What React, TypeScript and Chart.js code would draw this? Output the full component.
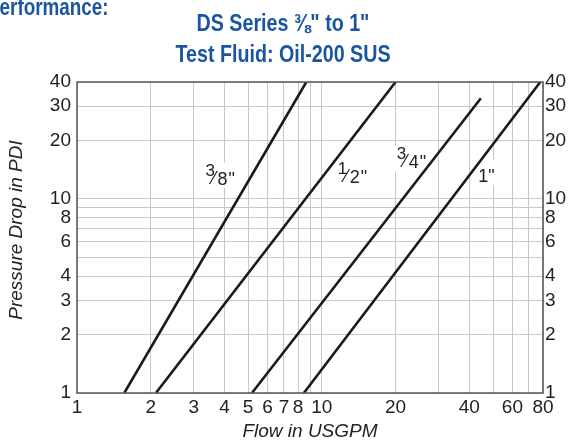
import React, { useEffect, useRef } from "react";
import { Chart, registerables } from "chart.js";

Chart.register(...registerables);

// ---- data ----
const seriesNames = ['3/8"', '1/2"', '3/4"', '1"'];
const flow38 = [1.56, 8.64];
const drop38 = [1, 40];
const flow12 = [2.1, 20];
const drop12 = [1, 40];
const flow34 = [5.18, 44.6];
const drop34 = [1, 33];
const flow1 = [8.44, 78];
const drop1 = [1, 40];

const xGrid = [1, 2, 3, 4, 5, 6, 7, 8, 9, 10, 20, 30, 40, 50, 60, 70, 80];
const xTickLabels = [1, 2, 3, 4, 5, 6, 7, 8, 10, 20, 40, 60, 80];
const yGrid = [1, 2, 3, 4, 5, 6, 7, 8, 9, 10, 20, 30, 40];
const yTickLabels = [1, 2, 3, 4, 6, 8, 10, 20, 30, 40];

// size labels on the curves: numerator / denominator, anchored in data units
const labelNum = ["3", "1", "3", "1"];
const labelDen = ["8", "2", "4", ""];
const labelFlow = [3.35, 11.6, 20.2, 43.5];
const labelDrop = [11.8, 12.1, 14.4, 12.2];

const titleLine1 = 'DS Series \u215C" to 1"';
const titleLine2 = "Test Fluid: Oil-200 SUS";
const cornerText = "Performance:";
const xTitle = "Flow in USGPM";
const yTitle = "Pressure Drop in PDI";

const BLUE = "#1a56a0";
const INK = "#222";
const FONT = '"Liberation Sans", Arial, Helvetica, sans-serif';

function toPts(xs: number[], ys: number[]) {
  return xs.map((x, i) => ({ x, y: ys[i] }));
}

let narrowOK: boolean | null = null;
function hasNarrow(ctx: CanvasRenderingContext2D) {
  if (narrowOK !== null) return narrowOK;
  ctx.save();
  ctx.font = "bold 24px monospace";
  const a = ctx.measureText("Test Fluid Series").width;
  ctx.font = 'bold 24px "Liberation Sans Narrow", monospace';
  const b = ctx.measureText("Test Fluid Series").width;
  ctx.restore();
  narrowOK = Math.abs(a - b) > 0.5;
  return narrowOK;
}

function drawCondensed(
  ctx: CanvasRenderingContext2D,
  text: string,
  x: number,
  y: number,
  align: CanvasTextAlign,
  size: number
) {
  ctx.save();
  ctx.textAlign = align;
  ctx.textBaseline = "alphabetic";
  if (hasNarrow(ctx)) {
    ctx.font = `bold ${size}px "Liberation Sans Narrow", ${FONT}`;
    ctx.fillText(text, x, y);
  } else {
    ctx.font = `bold ${size}px ${FONT}`;
    ctx.translate(x, y);
    ctx.scale(0.82, 1);
    ctx.fillText(text, 0, 0);
  }
  ctx.restore();
}

const decorPlugin = {
  id: "decor",
  beforeDatasetsDraw(chart: any) {
    const ctx: CanvasRenderingContext2D = chart.ctx;
    const xs = chart.scales.x;
    const ys = chart.scales.y;
    ctx.save();
    for (let i = 0; i < seriesNames.length; i++) {
      const x0 = xs.getPixelForValue(labelFlow[i]);
      const b = ys.getPixelForValue(labelDrop[i]);
      const hasFrac = labelDen[i] !== "";
      const w = hasFrac ? 32 : 16;
      ctx.fillStyle = "#fff";
      ctx.fillRect(x0 - 2, b - 22, w + 4, 25);
      ctx.fillStyle = INK;
      ctx.textBaseline = "alphabetic";
      ctx.textAlign = "left";
      if (hasFrac) {
        ctx.font = `17px ${FONT}`;
        ctx.fillText(labelNum[i], x0, b - 9);
        ctx.font = `18px ${FONT}`;
        ctx.fillText("\u2044", x0 + 7, b - 1);
        ctx.fillText(labelDen[i], x0 + 12, b);
        ctx.fillText('"', x0 + 23, b);
      } else {
        ctx.font = `18px ${FONT}`;
        ctx.fillText(labelNum[i] + '"', x0, b);
      }
    }
    ctx.restore();
  },
  afterDraw(chart: any) {
    const ctx: CanvasRenderingContext2D = chart.ctx;
    const a = chart.chartArea;
    ctx.save();
    // frame
    ctx.strokeStyle = "#555";
    ctx.lineWidth = 1.5;
    ctx.strokeRect(a.left, a.top, a.right - a.left, a.bottom - a.top);
    // titles
    ctx.fillStyle = BLUE;
    drawCondensed(ctx, titleLine1, 283, 31, "center", 24);
    drawCondensed(ctx, titleLine2, 283, 62, "center", 24);
    drawCondensed(ctx, cornerText, -13, 15, "left", 23);
    // axis titles
    ctx.fillStyle = INK;
    ctx.font = `italic 19px ${FONT}`;
    ctx.textAlign = "center";
    ctx.textBaseline = "alphabetic";
    ctx.fillText(xTitle, (a.left + a.right) / 2, 437);
    ctx.translate(22, 230);
    ctx.rotate(-Math.PI / 2);
    ctx.fillText(yTitle, 0, 0);
    ctx.restore();
  },
};

export default function App() {
  const ref = useRef<HTMLCanvasElement>(null);
  useEffect(() => {
    const canvas = ref.current!;
    const lineStyle = {
      borderColor: "#1a1a1a",
      borderWidth: 2.6,
      pointRadius: 0,
      fill: false,
      tension: 0,
    };
    const tickFont = { family: FONT, size: 19 };
    const yScaleBase = {
      type: "logarithmic" as const,
      min: 1,
      max: 40,
      afterBuildTicks: (s: any) => {
        s.ticks = yGrid.map((v) => ({ value: v }));
      },
      border: { display: false },
    };
    const chart = new Chart(canvas, {
      type: "line",
      data: {
        datasets: [
          { label: seriesNames[0], data: toPts(flow38, drop38), ...lineStyle },
          { label: seriesNames[1], data: toPts(flow12, drop12), ...lineStyle },
          { label: seriesNames[2], data: toPts(flow34, drop34), ...lineStyle },
          { label: seriesNames[3], data: toPts(flow1, drop1), ...lineStyle },
        ],
      },
      options: {
        animation: false,
        responsive: false,
        devicePixelRatio: 1,
        layout: { padding: { top: 82, left: 0, right: 0, bottom: 0 } },
        plugins: {
          legend: { display: false },
          tooltip: { enabled: false },
          title: { display: false },
        },
        scales: {
          x: {
            type: "logarithmic",
            min: 1,
            max: 80,
            afterBuildTicks: (s: any) => {
              s.ticks = xGrid.map((v) => ({ value: v }));
            },
            afterFit: (s: any) => {
              s.height = 51;
            },
            ticks: {
              autoSkip: false,
              maxRotation: 0,
              minRotation: 0,
              padding: 3,
              color: INK,
              font: tickFont,
              callback: (v: any) => (xTickLabels.includes(Number(v)) ? String(v) : ""),
            },
            grid: { color: "#c8c8c8", lineWidth: 1, drawTicks: false },
            border: { display: false },
          },
          y: {
            ...yScaleBase,
            position: "left",
            afterFit: (s: any) => {
              s.width = 77;
            },
            ticks: {
              autoSkip: false,
              padding: 6,
              color: INK,
              font: tickFont,
              callback: (v: any) => (yTickLabels.includes(Number(v)) ? String(v) : ""),
            },
            grid: { color: "#c8c8c8", lineWidth: 1, drawTicks: false },
          },
          y2: {
            ...yScaleBase,
            position: "right",
            afterFit: (s: any) => {
              s.width = 30;
            },
            ticks: {
              autoSkip: false,
              padding: 2,
              color: INK,
              font: tickFont,
              callback: (v: any) => (yTickLabels.includes(Number(v)) ? String(v) : ""),
            },
            grid: { display: false, drawTicks: false },
          },
        },
      } as any,
      plugins: [decorPlugin],
    });
    return () => chart.destroy();
  }, []);
  return (
    <div
      style={{
        position: "absolute",
        left: 0,
        top: 0,
        width: 573,
        height: 444,
        background: "#fff",
        overflow: "hidden",
      }}
    >
      <canvas ref={ref} width={573} height={444} style={{ display: "block", width: 573, height: 444 }} />
    </div>
  );
}
